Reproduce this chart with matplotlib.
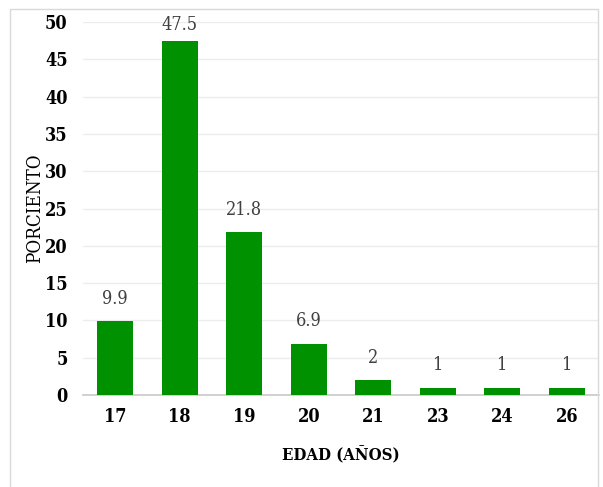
import matplotlib
matplotlib.use("Agg")
import matplotlib.pyplot as plt
from matplotlib.patches import Rectangle
from matplotlib import font_manager as fm

edades = ["17", "18", "19", "20", "21", "23", "24", "26"]
porcentajes = [9.9, 47.5, 21.8, 6.9, 2, 1, 1, 1]
etiquetas = ["9.9", "47.5", "21.8", "6.9", "2", "1", "1", "1"]
y_ticks = [0, 5, 10, 15, 20, 25, 30, 35, 40, 45, 50]


def serif_font(bold, size):
    """Prefer a condensed serif face; fall back to Liberation Serif."""
    want = "SerifCondensed-Bold." if bold else "SerifCondensed."
    for f in fm.fontManager.ttflist:
        if want in f.fname:
            return fm.FontProperties(fname=f.fname, size=size)
    return fm.FontProperties(family=["Liberation Serif", "DejaVu Serif"],
                             weight="bold" if bold else "normal", size=size)


fig = plt.figure(figsize=(6.03, 4.87), dpi=100)
fig.patches.append(Rectangle((10 / 603, -0.1), 588 / 603, 1 - 9 / 487 + 0.1,
                             transform=fig.transFigure, fill=False,
                             edgecolor="#d9d9d9", linewidth=1.0))

ax = fig.add_axes([83 / 603, 1 - 395 / 487, 516 / 603, 373 / 487])
x = range(len(edades))
ax.bar(x, porcentajes, width=0.56, color="#009100", zorder=3)

# value labels sit above each bar, kept inside the plot area at the top
lbl_font = serif_font(False, 13)
for xi, v, t in zip(x, porcentajes, etiquetas):
    ax.text(xi, min(v + 1.8, 48.4), t, ha="center", va="bottom",
            color="#404040", fontproperties=lbl_font)

ax.set_xlim(-0.5, len(edades) - 0.5)
ax.set_ylim(0, 50)
ax.set_yticks(y_ticks)
ax.set_xticks(list(x))
ax.set_xticklabels(edades)
ax.grid(axis="y", color="#ececec", linewidth=1.0, zorder=0)
ax.tick_params(length=0)
ax.tick_params(axis="y", pad=11)
ax.tick_params(axis="x", pad=9)
tick_font = serif_font(True, 13)
for lbl in ax.get_xticklabels() + ax.get_yticklabels():
    lbl.set_fontproperties(tick_font)
for s in ["top", "right", "left"]:
    ax.spines[s].set_visible(False)
ax.spines["bottom"].set_color("#c8c8c8")
ax.spines["bottom"].set_linewidth(1.2)

ax.set_xlabel("EDAD (AÑOS)", fontproperties=serif_font(True, 12), labelpad=15)
ax.set_ylabel("PORCIENTO", fontproperties=serif_font(False, 13.5))
ax.yaxis.set_label_coords(-0.076, 0.5)

fig.savefig("out.png", dpi=100)
